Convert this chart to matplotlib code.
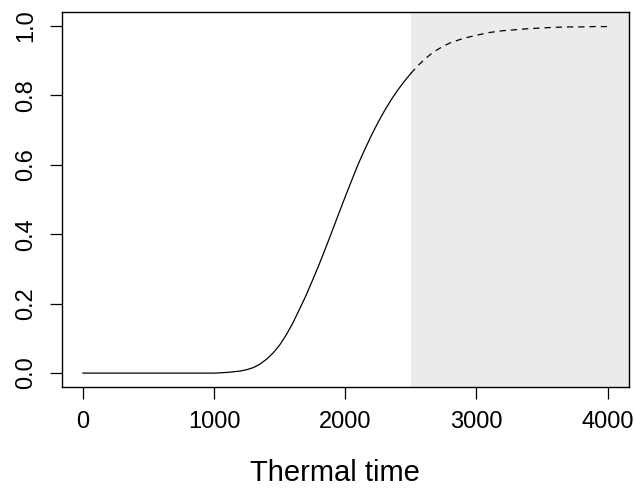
import matplotlib
matplotlib.use("Agg")
import matplotlib.pyplot as plt
import numpy as np

# Thermal time (x) and cumulative proportion (y)
thermal_time = [0, 500, 1000, 1100, 1150, 1200, 1250, 1300, 1350, 1400, 1450, 1500,
                1550, 1600, 1650, 1700, 1750, 1800, 1850, 1900, 1950, 2000, 2050,
                2100, 2150, 2200, 2250, 2300, 2350, 2400, 2450, 2500, 2550, 2600,
                2650, 2700, 2750, 2800, 2900, 3000, 3100, 3200, 3300, 3400, 3500,
                3600, 3700, 3800, 3900, 4000]
proportion = [0.0, 0.0, 0.0, 0.002, 0.004, 0.006, 0.010, 0.016, 0.026, 0.040, 0.058, 0.081,
              0.110, 0.144, 0.183, 0.223, 0.267, 0.312, 0.360, 0.409, 0.459, 0.508, 0.556,
              0.603, 0.645, 0.685, 0.722, 0.756, 0.787, 0.815, 0.840, 0.863, 0.884, 0.902,
              0.918, 0.931, 0.942, 0.951, 0.964, 0.973, 0.981, 0.986, 0.989, 0.992, 0.994,
              0.996, 0.997, 0.997, 0.998, 0.998]
observed_limit = 2500  # start of the shaded (extrapolated) region

x_ticks = [0, 1000, 2000, 3000, 4000]
y_ticks = [0.0, 0.2, 0.4, 0.6, 0.8, 1.0]
x_label = "Thermal time"

plt.rcParams['font.family'] = ['Liberation Sans', 'DejaVu Sans']

fig = plt.figure(figsize=(6.35, 4.91), dpi=100)
ax = fig.add_axes([62/635, 1 - 387/491, (628.5 - 62)/635, (387 - 12)/491])

x = np.array(thermal_time, dtype=float)
y = np.array(proportion, dtype=float)
solid = x <= observed_limit
dashed = x >= observed_limit

xmin, xmax = -160, 4160
ax.set_xlim(xmin, xmax)
ax.set_ylim(-0.04, 1.04)

ax.axvspan(observed_limit, xmax, color='#EBEBEB', lw=0, zorder=0)
ax.plot(x[solid], y[solid], color='black', lw=0.9, zorder=2,
        solid_joinstyle='round')
ax.plot(x[dashed], y[dashed], color='black', lw=0.9, dashes=(5, 4), zorder=2)

ax.set_xticks(x_ticks)
ax.set_xticklabels([str(v) for v in x_ticks])
ax.set_yticks(y_ticks)
ax.set_yticklabels([f"{v:.1f}" for v in y_ticks], rotation=90, va='center')

ax.tick_params(axis='both', direction='out', length=8.6, width=0.9, labelsize=17, colors='black')
ax.tick_params(axis='x', pad=9)
ax.tick_params(axis='y', pad=9)
for s in ax.spines.values():
    s.set_linewidth(1.0)
    s.set_color('black')

fig.text(335 / 635, 1 - 473 / 491, x_label, fontsize=21, ha='center', va='center')

fig.savefig("out.png", dpi=100)
